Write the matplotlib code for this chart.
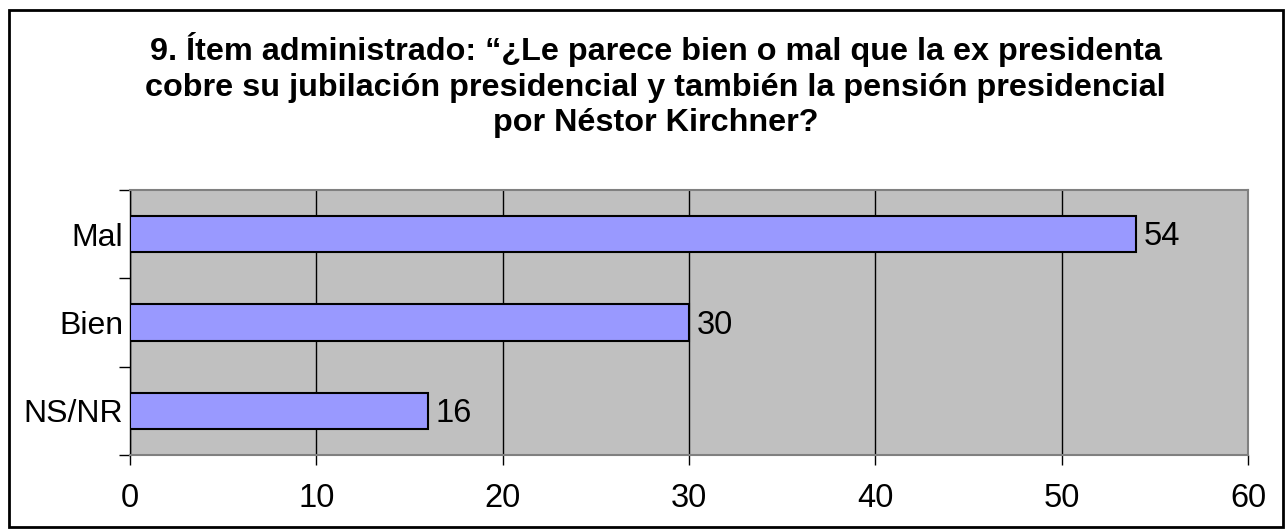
import matplotlib
matplotlib.use("Agg")
import matplotlib.pyplot as plt
from matplotlib.patches import Rectangle

categories = ["Mal", "Bien", "NS/NR"]
values = [54, 30, 16]
xticks = [0, 10, 20, 30, 40, 50, 60]
title = ("9. Ítem administrado: “¿Le parece bien o mal que la ex presidenta\n"
         "cobre su jubilación presidencial y también la pensión presidencial\n"
         "por Néstor Kirchner?")

plt.rcParams['font.family'] = ['Liberation Sans', 'DejaVu Sans']

W, H = 1286, 529
fig = plt.figure(figsize=(W / 100, H / 100), dpi=100)
fig.patch.set_facecolor('white')

# outer border
fig.patches.append(Rectangle((9 / W, 1 - 527 / H), (1283 - 9) / W, (527 - 10) / H,
                             transform=fig.transFigure, fill=False,
                             edgecolor='black', linewidth=2))

ax = fig.add_axes([130 / W, 1 - 455 / H, (1248 - 130) / W, (455 - 190) / H])
ax.set_facecolor('#C0C0C0')

ypos = list(range(len(categories)))
ax.barh(ypos, values, height=0.41, color='#9999FF', edgecolor='black',
        linewidth=1.5, zorder=3)
for y, v in zip(ypos, values):
    ax.text(v + 0.4, y + 0.03, str(v), va='center', ha='left', fontsize=23.5, zorder=4)

ax.set_xlim(0, 60)
ax.set_ylim(2.5, -0.5)
ax.set_xticks(xticks)
ax.set_xticklabels([str(t) for t in xticks], fontsize=23.5)
ax.set_yticks(ypos)
ax.set_yticklabels(categories, fontsize=23)
ax.set_yticks([-0.5, 0.5, 1.5, 2.5], minor=True)
ax.tick_params(axis='y', which='major', length=0, pad=5)
ax.tick_params(axis='y', which='minor', length=8, width=1, direction='out', color='black')
ax.tick_params(axis='x', which='major', length=7, width=1, direction='out', pad=13, color='black')
ax.xaxis.grid(True, color='black', linewidth=1, zorder=1)
ax.set_axisbelow(True)
for s in ['top', 'right', 'bottom']:
    ax.spines[s].set_color('#808080')
    ax.spines[s].set_linewidth(1.5)
ax.spines['left'].set_color('black')
ax.spines['left'].set_linewidth(1)

fig.text(0.5 * (148 + 1163) / W, 1 - 32 / H, title, ha='center', va='top',
         fontsize=23.3, fontweight='bold', linespacing=1.25)

fig.savefig('out.png', dpi=100)
